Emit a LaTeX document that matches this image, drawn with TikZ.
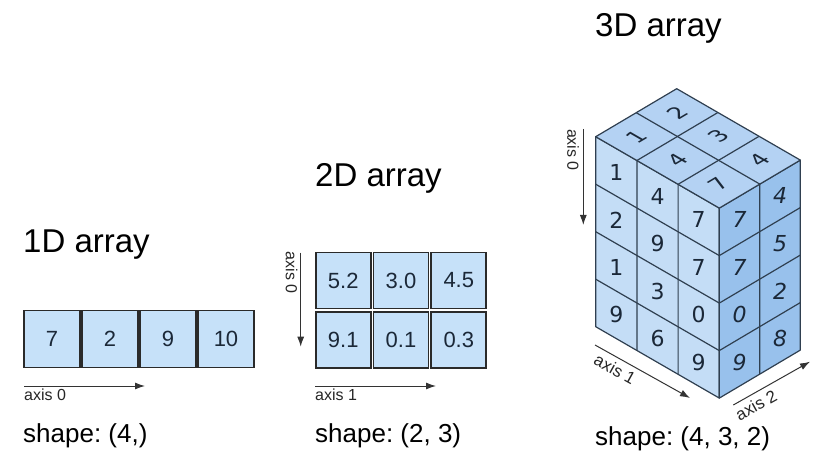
\documentclass[tikz,border=0pt]{standalone}
\usepackage{fontspec}
\setmainfont{Liberation Sans}
\newfontfamily\digitfont{DejaVu Sans}
\usetikzlibrary{arrows.meta}
\frenchspacing
\definecolor{cellblue}{RGB}{198,225,249}
\definecolor{celledge}{RGB}{42,42,42}
\definecolor{numcol}{RGB}{27,40,56}
\definecolor{leftface}{RGB}{196,221,246}
\definecolor{topface}{RGB}{180,210,243}
\definecolor{rightface}{RGB}{152,193,236}
\definecolor{cubeedge}{RGB}{47,63,80}
\tikzset{
  cell/.style={draw=celledge, fill=cellblue, line width=1.8pt, minimum width=56pt, minimum height=57pt, inner sep=0pt, text=numcol, font=\fontsize{22}{24}\selectfont},
  title/.style={anchor=base west, inner sep=0pt, font=\fontsize{33}{38}\selectfont},
  shapelabel/.style={anchor=base west, inner sep=0pt, font=\fontsize{26}{30}\selectfont},
  axislabel/.style={inner sep=0pt, text=black!85, font=\fontsize{16}{18}\selectfont},
  axisarrow/.style={-{Latex[length=10pt,width=7pt]}, line width=1pt, black!80},
  cubeface/.style={draw=cubeedge, line width=1.2pt, line join=round},
  cubenum/.style={inner sep=0pt, text=numcol, font=\digitfont\fontsize{22}{24}\selectfont},
  sidenum/.style={cubenum, font=\digitfont\itshape\fontsize{22}{24}\selectfont},
  topnum/.style={cubenum, cm={0.86,0.51,-0.866,0.5,(0,0)}}
}
\begin{document}
\begin{tikzpicture}[x=1pt,y=-1pt]
\useasboundingbox (0,0) rectangle (830,465);
\node[title] (t1) at (23,252) {1D array};
\foreach \v [count=\i from 0] in {7,2,9,10}
  \node[cell] (c\i) at (52+58*\i,339) {\v};
\coordinate (p0s) at (24,386);
\coordinate (p0e) at (145,386);
\draw[axisarrow] (p0s) -- (p0e);
\node[axislabel, anchor=base west] (l1) at (24,400) {axis 0};
\node[shapelabel] (s1) at (23,442) {shape: (4,)};

\node[title] (t2) at (315,186.7) {2D array};
\foreach \r/\vals in {0/{5.2,3.0,4.5},1/{9.1,0.1,0.3}}
  \foreach \v [count=\j from 0] in \vals
    \node[cell, minimum width=55pt, minimum height=56pt] (m\r\j) at (343.2+57.8*\j,280.5+59.2*\r) {\v};
\coordinate (q0s) at (300.7,252.7);
\coordinate (q0e) at (300.7,346.7);
\draw[axisarrow] (q0s) -- (q0e);
\node[axislabel, rotate=-90] (l20) at (291.5,272.5) {axis 0};
\coordinate (q1s) at (315,386);
\coordinate (q1e) at (436,386);
\draw[axisarrow] (q1s) -- (q1e);
\node[axislabel, anchor=base west] (l21) at (315,400) {axis 1};
\node[shapelabel] (s2) at (315,442) {shape: (2, 3)};

\node[title] (t3) at (595,36.7) {3D array};
\begin{scope}[shift={(595.7,136.7)},x={(41.2pt,-23.8pt)},y={(0pt,-47.5pt)},z={(40.5pt,24pt)}]
\filldraw[cubeface, fill=leftface] (0,0,0) -- (3,0,0) -- (3,4,0) -- (0,4,0) -- cycle;
\filldraw[cubeface, fill=rightface] (3,0,0) -- (3,0,2) -- (3,4,2) -- (3,4,0) -- cycle;
\filldraw[cubeface, fill=topface] (0,0,0) -- (3,0,0) -- (3,0,2) -- (0,0,2) -- cycle;
\foreach \i in {1,2}
  \draw[cubeface] (\i,0,0) -- (\i,4,0) (\i,0,0) -- (\i,0,2);
\foreach \r in {1,2,3}
  \draw[cubeface] (0,\r,0) -- (3,\r,0) -- (3,\r,2);
\draw[cubeface] (3,0,1) -- (3,4,1) (0,0,1) -- (3,0,1);
\foreach \c/\vals in {0/{1,2,1,9},1/{4,9,3,6},2/{7,7,0,9}}
  \foreach \v [count=\r from 0] in \vals
    \node[cubenum] (f\c\r) at (\c+.5,\r+.5,0) {\v};
\foreach \k/\vals in {0/{7,7,0,9},1/{4,5,2,8}}
  \foreach \v [count=\r from 0] in \vals
    \node[sidenum] (g\k\r) at (3,\r+.5,\k+.5) {\v};
\foreach \i/\k/\v in {0/0/1,0/1/2,1/0/4,1/1/3,2/0/7,2/1/4}
  \node[topnum] (h\i\k) at (\i+.5,0,\k+.5) {\v};
\end{scope}
\coordinate (r0s) at (583.3,129);
\coordinate (r0e) at (583.3,225);
\draw[axisarrow] (r0s) -- (r0e);
\node[axislabel, rotate=-90] (l30) at (573,150) {axis 0};
\coordinate (r1s) at (595,345);
\coordinate (r1e) at (690,398);
\draw[axisarrow] (r1s) -- (r1e);
\node[axislabel, rotate=-29, font=\fontsize{17}{20}\selectfont] (l31) at (615,369) {axis 1};
\coordinate (r2s) at (733.3,405);
\coordinate (r2e) at (810,361.7);
\draw[axisarrow] (r2s) -- (r2e);
\node[axislabel, rotate=29, font=\fontsize{17}{20}\selectfont] (l32) at (756,405) {axis 2};
\node[shapelabel] (s3) at (595,445) {shape: (4, 3, 2)};
\end{tikzpicture}
\end{document}
